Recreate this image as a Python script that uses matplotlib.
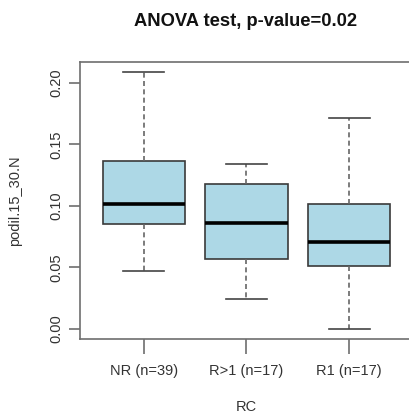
import matplotlib
matplotlib.use("Agg")
import matplotlib.pyplot as plt

plt.rcParams['font.family'] = ['Liberation Sans', 'DejaVu Sans']

categories = ["NR (n=39)", "R>1 (n=17)", "R1 (n=17)"]
whisker_low = [0.047, 0.024, 0.000]
q1 = [0.0853, 0.0566, 0.0506]
median = [0.1015, 0.0863, 0.0709]
q3 = [0.1367, 0.1177, 0.1015]
whisker_high = [0.209, 0.134, 0.1716]
yticks = [0.00, 0.05, 0.10, 0.15, 0.20]

fig = plt.figure(figsize=(4.10, 4.18), dpi=100)
ax = fig.add_axes([80/410, 1-339/418, 333/410, (339-61.5)/418])

stats = []
for i, c in enumerate(categories):
    stats.append(dict(label=c, whislo=whisker_low[i], q1=q1[i], med=median[i],
                      q3=q3[i], whishi=whisker_high[i], fliers=[]))

edge = '#3a3a3a'
ax.bxp(stats, positions=[1, 2, 3], widths=0.8, patch_artist=True,
       showfliers=False,
       boxprops=dict(facecolor='#add8e6', edgecolor=edge, linewidth=1.2),
       medianprops=dict(color='black', linewidth=2.6, solid_capstyle='butt'),
       whiskerprops=dict(color='#666666', linewidth=1.2, linestyle=(0, (3, 2))),
       capprops=dict(color='#444444', linewidth=1.2),
       capwidths=0.4)

ax.set_xlim(0.38, 3.62)
ax.set_ylim(-0.0084, 0.2174)
ax.set_yticks(yticks)
ax.set_yticklabels([f"{v:.2f}" for v in yticks], rotation=90, va='center')
ax.set_xticks([1, 2, 3])
ax.set_xticklabels(categories)

for s in ax.spines.values():
    s.set_color('#6e6e6e')
    s.set_linewidth(1.2)
ax.spines['right'].set_visible(False)
ax.tick_params(axis='both', colors='#6e6e6e', labelcolor='#333333',
               labelsize=10.5, width=1.2)
ax.tick_params(axis='y', length=8, pad=4)
ax.tick_params(axis='x', length=11, pad=7)

ax.set_ylabel("podil.15_30.N", fontsize=10.5, color='#333333', labelpad=20)
ax.set_xlabel("RC", fontsize=10.5, color='#333333', labelpad=16)
fig.text(246/410, 1-21.5/418, "ANOVA test, p-value=0.02", ha='center', va='center',
         fontsize=13.2, fontweight='bold', color='#111111')

fig.savefig("out.png", dpi=100)
